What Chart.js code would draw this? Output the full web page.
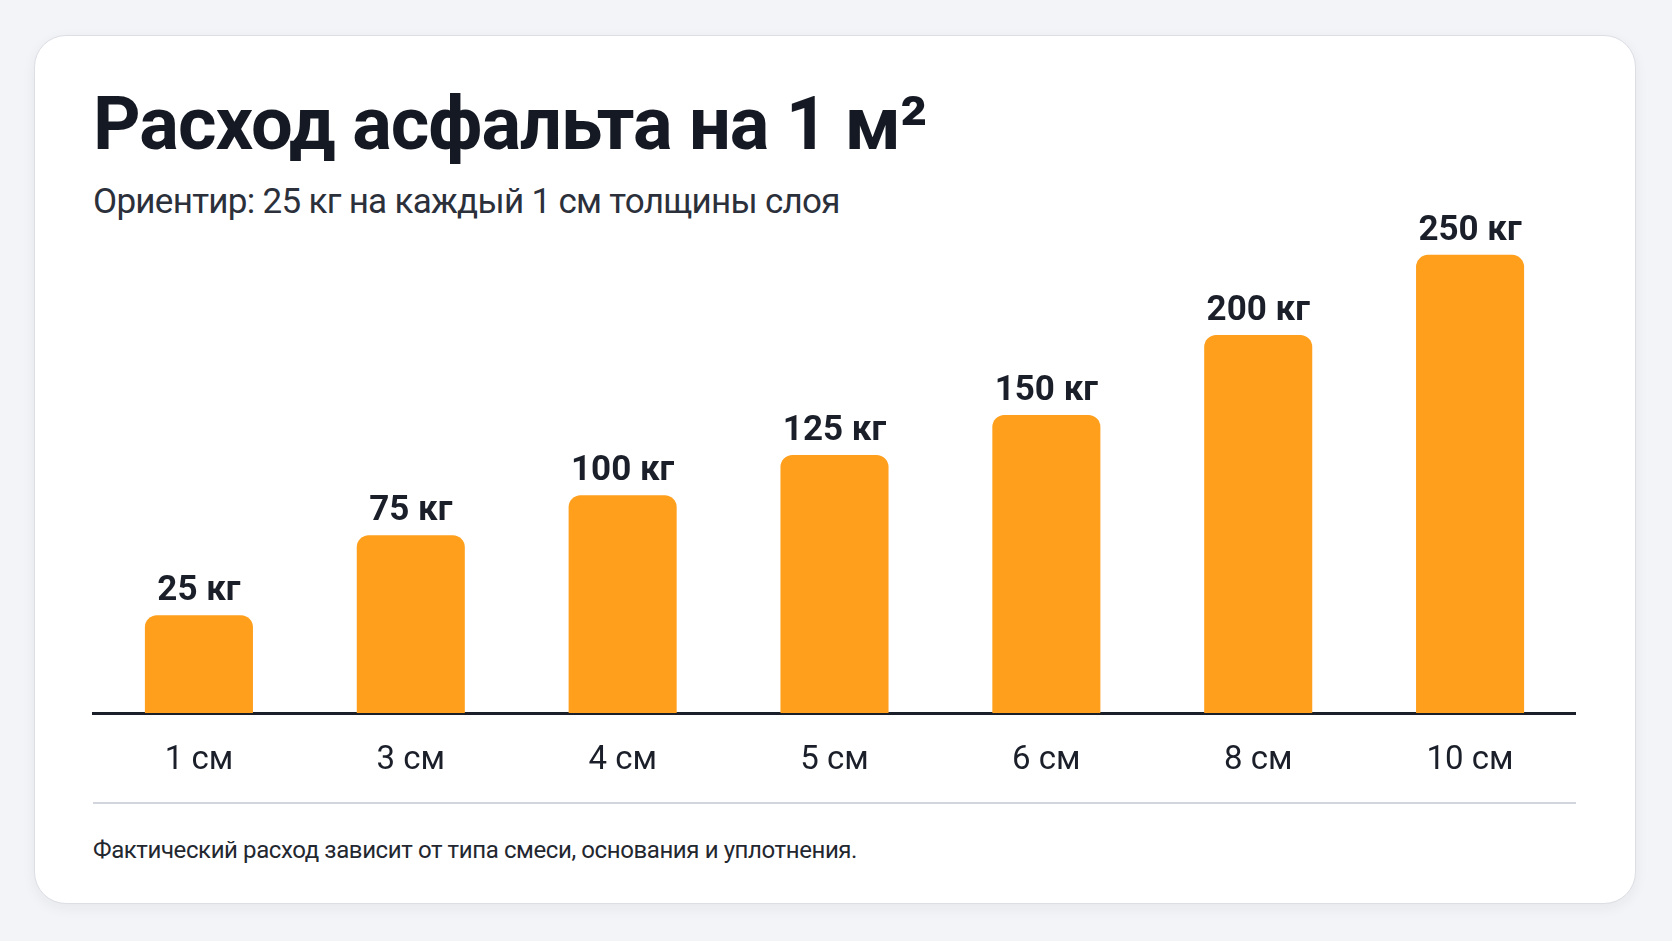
<!DOCTYPE html>
<html lang="ru">
<head>
<meta charset="utf-8">
<title>Расход асфальта на 1 м²</title>
<script src="https://cdn.jsdelivr.net/npm/chart.js@4/dist/chart.umd.min.js"></script>
<style>
	html, body { margin: 0; padding: 0; }
	body {
		width: 1672px;
		height: 941px;
		background: #f3f4f7;
		font-family: Roboto, 'Noto Sans', sans-serif;
		position: relative;
		overflow: hidden;
	}
	.card {
		position: absolute;
		left: 34px;
		top: 35px;
		width: 1600px;
		height: 867px;
		background: #fff;
		border: 1px solid #dcdee4;
		border-radius: 32px;
		box-shadow: 0 4px 14px rgba(20, 30, 60, 0.06);
	}
	h1 {
		position: absolute;
		left: 93px;
		top: 80px;
		margin: 0;
		font-size: 74px;
		font-weight: 700;
		letter-spacing: -1px;
		color: #151923;
		white-space: nowrap;
	}
	.subtitle {
		position: absolute;
		left: 93px;
		top: 181px;
		margin: 0;
		font-size: 35px;
		letter-spacing: -0.7px;
		color: #2b303b;
		white-space: nowrap;
	}
	#chart-wrap {
		position: absolute;
		left: 91px;
		top: 202px;
		width: 1485px;
		height: 600px;
	}
	.divider {
		position: absolute;
		left: 93px;
		top: 802px;
		width: 1483px;
		height: 2px;
		background: #d3d5dc;
	}
	.note {
		position: absolute;
		left: 93px;
		top: 836px;
		margin: 0;
		font-size: 24px;
		letter-spacing: -0.4px;
		color: #23272f;
		white-space: nowrap;
	}
</style>
</head>
<body>
<div class="card"></div>
<h1>Расход асфальта на 1 м²</h1>
<p class="subtitle">Ориентир: 25 кг на каждый 1 см толщины слоя</p>
<div id="chart-wrap"><canvas id="asphalt-chart" width="1485" height="600"></canvas></div>
<div class="divider"></div>
<p class="note">Фактический расход зависит от типа смеси, основания и уплотнения.</p>

<script>
const thicknessLabels = ['1 см', '3 см', '4 см', '5 см', '6 см', '8 см', '10 см'];
const asphaltKg = [25, 75, 100, 125, 150, 200, 250];
const unit = 'кг';

// the picture's bars don't start from zero, so the axis is offset a bit
const axisMin = -36;
const axisMax = 283;

const barColor = '#ff9f1c';
const inkColor = '#1b1f2a';

const valueLabels = {
	id: 'valueLabels',
	afterDatasetsDraw(chart) {
		const { ctx } = chart;
		const meta = chart.getDatasetMeta(0);
		ctx.save();
		ctx.font = 'bold 35px Roboto, sans-serif';
		ctx.fillStyle = inkColor;
		ctx.textAlign = 'center';
		ctx.textBaseline = 'alphabetic';
		meta.data.forEach((bar, i) => {
			ctx.fillText(`${asphaltKg[i]} ${unit}`, bar.x, bar.y - 15);
		});
		ctx.restore();
	},
};

new Chart('asphalt-chart', {
	type: 'bar',
	data: {
		labels: thicknessLabels,
		datasets: [
			{
				data: asphaltKg,
				base: axisMin,
				backgroundColor: barColor,
				borderRadius: { topLeft: 12, topRight: 12, bottomLeft: 0, bottomRight: 0 },
				borderSkipped: false,
				categoryPercentage: 1,
				barPercentage: 0.51,
			},
		],
	},
	options: {
		responsive: false,
		maintainAspectRatio: false,
		devicePixelRatio: 1,
		animation: false,
		layout: { padding: { left: 2 } },
		scales: {
			x: {
				grid: { display: false },
				border: { display: true, color: inkColor, width: 3 },
				ticks: {
					color: inkColor,
					font: { family: 'Roboto, sans-serif', size: 33 },
					padding: 20,
				},
				afterFit: (scale) => {
					scale.height = 89;
				},
			},
			y: {
				display: false,
				min: axisMin,
				max: axisMax,
			},
		},
		plugins: {
			legend: { display: false },
			tooltip: { enabled: false },
		},
	},
	plugins: [valueLabels],
});
</script>
</body>
</html>
